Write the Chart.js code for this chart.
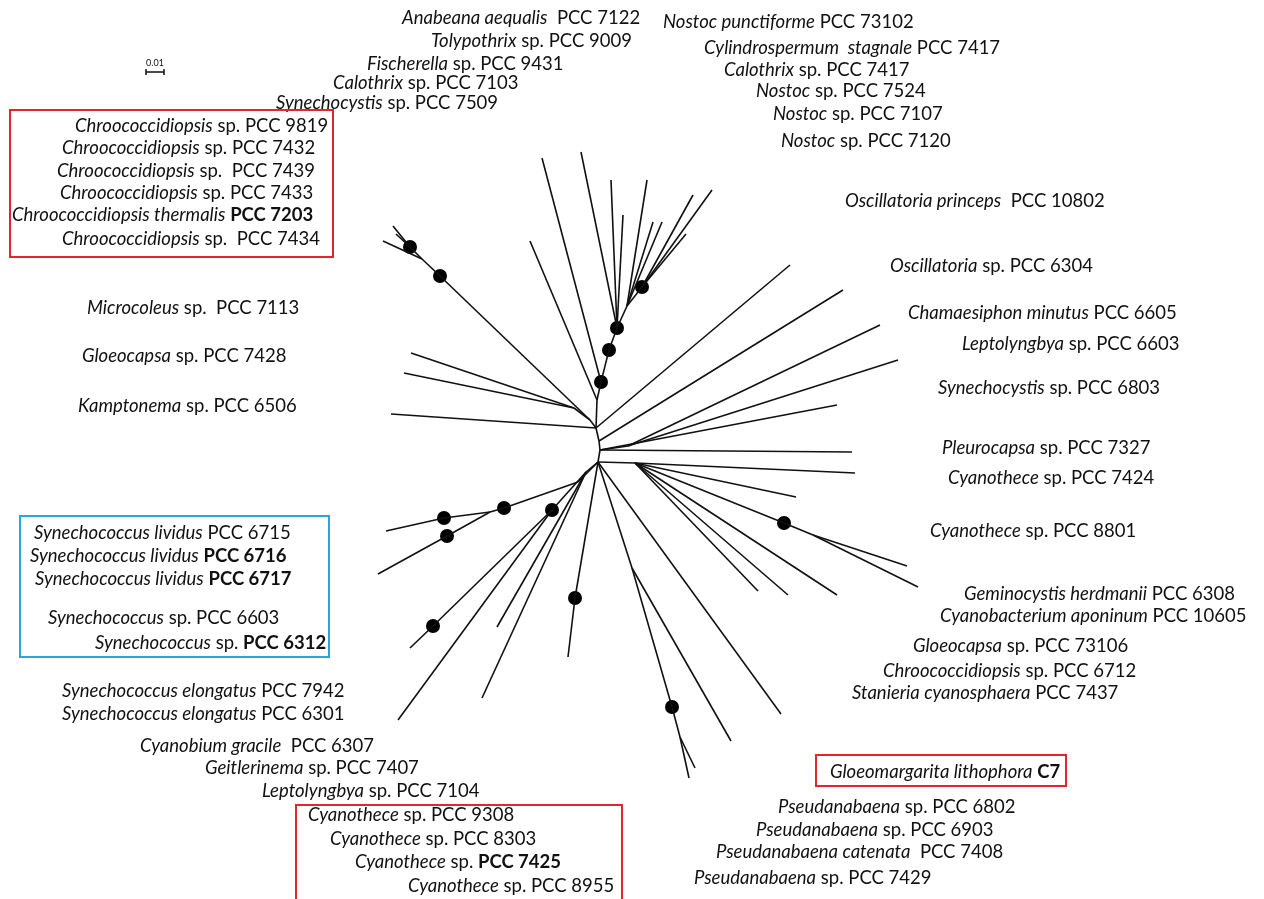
<!DOCTYPE html>
<html>
<head>
<meta charset="utf-8">
<script src="https://cdn.jsdelivr.net/npm/chart.js@4.4.1/dist/chart.umd.min.js"></script>
<style>
  html, body { margin: 0; padding: 0; background: #fff; }
  #wrap { width: 1264px; height: 899px; }
</style>
</head>
<body>
<div id="wrap"><canvas id="tree" width="1264" height="899"></canvas></div>
<script>
// tree nodes: [name, x, y, parent]
const treeNodes = [
    ['h', 598, 462, null],
    ['p6', 600, 450, 'h'],
    ['p6a', 599, 441, 'p6'],
    ['p5', 596, 428, 'p6a'],
    ['p4', 597, 400, 'p5'],
    ['p3', 601, 382, 'p4'],
    ['p2', 609, 350, 'p3'],
    ['p1', 617, 328, 'p2'],
    ['q1', 627, 306, 'p1'],
    ['p0', 642, 287, 'q1'],
    ['t1', 542, 158, 'p3'],
    ['t2', 530, 241, 'p4'],
    ['t3', 581, 152, 'p1'],
    ['t4', 611, 180, 'p1'],
    ['t5', 623, 215, 'p1'],
    ['t6', 647, 180, 'q1'],
    ['t7', 653, 222, 'q1'],
    ['t8', 662, 222, 'q1'],
    ['t9', 693, 195, 'p0'],
    ['t10', 712, 190, 'p0'],
    ['t11', 686, 234, 'p0'],
    ['hl', 590, 420, 'p5'],
    ['g', 574, 408, 'hl'],
    ['t12', 411, 353, 'g'],
    ['t13', 404, 373, 'g'],
    ['t14', 391, 414, 'p5'],
    ['c0', 440, 276, 'hl'],
    ['cn', 422, 259, 'c0'],
    ['t15', 383, 241, 'cn'],
    ['c2', 410, 247, 'cn'],
    ['t16', 393, 226, 'c2'],
    ['t17', 396, 234, 'c2'],
    ['r1', 790, 265, 'p5'],
    ['r2', 843, 290, 'p6a'],
    ['w', 628, 446, 'p6'],
    ['r3', 880, 325, 'w'],
    ['r4', 898, 360, 'w'],
    ['r5', 837, 405, 'p6'],
    ['r6', 852, 452, 'p6'],
    ['f', 635, 463, 'h'],
    ['r7', 855, 473, 'f'],
    ['r8', 796, 497, 'f'],
    ['cy', 784, 523, 'f'],
    ['cys', 813, 535, 'cy'],
    ['r9', 907, 566, 'cys'],
    ['r10', 918, 587, 'cys'],
    ['r11', 837, 595, 'f'],
    ['r12', 788, 595, 'f'],
    ['r13', 758, 591, 'f'],
    ['b1', 781, 714, 'h'],
    ['k', 632, 568, 'h'],
    ['b2', 731, 741, 'k'],
    ['kd', 672, 707, 'k'],
    ['kn', 680, 737, 'kd'],
    ['b3', 689, 778, 'kn'],
    ['b4', 695, 768, 'kn'],
    ['dd', 575, 598, 'h'],
    ['b5', 568, 657, 'dd'],
    ['m', 586, 472, 'h'],
    ['d', 552, 510, 'm'],
    ['d2', 433, 626, 'd'],
    ['b6', 410, 648, 'd2'],
    ['b7', 398, 720, 'd'],
    ['b8', 497, 627, 'm'],
    ['b9', 482, 698, 'm'],
    ['l1', 578, 482, 'h'],
    ['l2', 504, 508, 'l1'],
    ['n2', 490, 512, 'l2'],
    ['l3', 444, 518, 'n2'],
    ['b10', 386, 531, 'l3'],
    ['l4', 447, 536, 'n2'],
    ['b11', 378, 574, 'l4'],
];

// nodes carrying a support dot
const supportedNodes = ['p3', 'p2', 'p1', 'p0', 'c0', 'c2', 'cy', 'kd', 'dd', 'd', 'd2', 'l2', 'l3', 'l4'];

// strain names, *italic* and **bold** parts
const leafNames = [
    '*Anabeana aequalis*  PCC 7122',
    '*Tolypothrix* sp. PCC 9009',
    '*Fischerella* sp. PCC 9431',
    '*Calothrix* sp. PCC 7103',
    '*Synechocystis* sp. PCC 7509',
    '*Chroococcidiopsis* sp. PCC 9819',
    '*Chroococcidiopsis* sp. PCC 7432',
    '*Chroococcidiopsis* sp.  PCC 7439',
    '*Chroococcidiopsis* sp. PCC 7433',
    '*Chroococcidiopsis thermalis* **PCC 7203**',
    '*Chroococcidiopsis* sp.  PCC 7434',
    '*Microcoleus* sp.  PCC 7113',
    '*Gloeocapsa* sp. PCC 7428',
    '*Kamptonema* sp. PCC 6506',
    '*Synechococcus lividus* PCC 6715',
    '*Synechococcus lividus* **PCC 6716**',
    '*Synechococcus lividus* **PCC 6717**',
    '*Synechococcus* sp. PCC 6603',
    '*Synechococcus* sp. **PCC 6312**',
    '*Synechococcus elongatus* PCC 7942',
    '*Synechococcus elongatus* PCC 6301',
    '*Cyanobium gracile*  PCC 6307',
    '*Geitlerinema* sp. PCC 7407',
    '*Leptolyngbya* sp. PCC 7104',
    '*Cyanothece* sp. PCC 9308',
    '*Cyanothece* sp. PCC 8303',
    '*Cyanothece* sp. **PCC 7425**',
    '*Cyanothece* sp. PCC 8955',
    '*Pseudanabaena* sp. PCC 7429',
    '*Pseudanabaena catenata*  PCC 7408',
    '*Pseudanabaena* sp. PCC 6903',
    '*Pseudanabaena* sp. PCC 6802',
    '*Gloeomargarita lithophora* **C7**',
    '*Stanieria cyanosphaera* PCC 7437',
    '*Chroococcidiopsis* sp. PCC 6712',
    '*Gloeocapsa* sp. PCC 73106',
    '*Cyanobacterium aponinum* PCC 10605',
    '*Geminocystis herdmanii* PCC 6308',
    '*Cyanothece* sp. PCC 8801',
    '*Cyanothece* sp. PCC 7424',
    '*Pleurocapsa* sp. PCC 7327',
    '*Synechocystis* sp. PCC 6803',
    '*Leptolyngbya* sp. PCC 6603',
    '*Chamaesiphon minutus* PCC 6605',
    '*Oscillatoria* sp. PCC 6304',
    '*Oscillatoria princeps*  PCC 10802',
    '*Nostoc* sp. PCC 7120',
    '*Nostoc* sp. PCC 7107',
    '*Nostoc* sp. PCC 7524',
    '*Calothrix* sp. PCC 7417',
    '*Cylindrospermum  stagnale* PCC 7417',
    '*Nostoc punctiforme* PCC 73102',
];

// where each name starts: left edge, middle line
const labelAt = [
    [402, 18], [431, 41], [367, 64], [333, 83], [276, 103],
    [75, 126], [62, 148], [57, 171], [60, 193], [12, 215], [62, 239],
    [87, 308], [82, 356], [78, 406],
    [34, 533], [30, 556], [35, 579], [48, 618], [95, 643],
    [62, 691], [62, 714], [140, 746], [205, 768], [262, 791],
    [308, 815], [330, 839], [355, 862], [408, 886],
    [694, 878], [716, 852], [756, 830], [778, 807], [830, 772],
    [852, 693], [883, 671], [913, 646], [940, 616], [964, 594],
    [930, 531], [948, 478], [942, 448], [938, 388], [962, 344],
    [908, 313], [890, 266], [845, 201],
    [781, 141], [773, 114], [756, 91], [724, 70], [704, 48], [663, 22],
];

// highlight frames [x1, y1, x2, y2, colour]
const frames = [
    [10, 110, 333, 257, '#e3262b'],
    [20, 516, 329, 657, '#2aa4dc'],
    [296, 805, 622, 905, '#e3262b'],
    [816, 755, 1066, 786, '#e3262b'],
];

const scaleBar = { label: '0.01', from: 146, to: 164, at: 72 };

const FONT = 'Lato, "Open Sans", sans-serif';
const SIZE = 18.5;

function buildDatasets() {
    let byName = {};
    treeNodes.forEach(n => byName[n[0]] = n);
    let sets = treeNodes.filter(n => n[3]).map(n => {
        let p = byName[n[3]];
        return {
            data: [{ x: p[1], y: p[2] }, { x: n[1], y: n[2] }],
            showLine: true,
            borderColor: '#111',
            borderWidth: 1.6,
            pointRadius: 0,
        };
    });
    sets.push({
        data: supportedNodes.map(s => ({ x: byName[s][1], y: byName[s][2] })),
        showLine: false,
        pointRadius: 7,
        pointBackgroundColor: '#000',
        pointBorderWidth: 0,
    });
    return sets;
}

function splitMarkup(text) {
    return text.split(/(\*\*[^*]+\*\*|\*[^*]+\*)/).filter(s => s.length).map(s => {
        if (s.startsWith('**')) return { t: s.slice(2, -2), style: 'bold ' };
        if (s.startsWith('*')) return { t: s.slice(1, -1), style: 'italic ' };
        return { t: s, style: '' };
    });
}

const labelPlugin = {
    id: 'treeLabels',
    afterDraw(chart) {
        let ctx = chart.ctx;
        let xs = chart.scales.x, ys = chart.scales.y;
        ctx.save();
        ctx.fillStyle = '#111';
        ctx.textBaseline = 'middle';
        leafNames.forEach((name, i) => {
            let cx = xs.getPixelForValue(labelAt[i][0]);
            let cy = ys.getPixelForValue(labelAt[i][1]);
            splitMarkup(name).forEach(p => {
                ctx.font = p.style + SIZE + 'px ' + FONT;
                ctx.fillText(p.t, cx, cy);
                cx += ctx.measureText(p.t).width;
            });
        });

        frames.forEach(f => {
            ctx.strokeStyle = f[4];
            ctx.lineWidth = 2;
            let a = xs.getPixelForValue(f[0]), b = ys.getPixelForValue(f[1]);
            ctx.strokeRect(a, b, xs.getPixelForValue(f[2]) - a, ys.getPixelForValue(f[3]) - b);
        });

        // scale bar
        let s1 = xs.getPixelForValue(scaleBar.from), s2 = xs.getPixelForValue(scaleBar.to);
        let sy = ys.getPixelForValue(scaleBar.at);
        ctx.strokeStyle = '#111';
        ctx.lineWidth = 1.5;
        ctx.beginPath();
        ctx.moveTo(s1, sy); ctx.lineTo(s2, sy);
        ctx.moveTo(s1, sy - 3); ctx.lineTo(s1, sy + 3);
        ctx.moveTo(s2, sy - 3); ctx.lineTo(s2, sy + 3);
        ctx.stroke();
        ctx.font = '9px ' + FONT;
        ctx.textAlign = 'center';
        ctx.fillText(scaleBar.label, (s1 + s2) / 2, sy - 9);
        ctx.restore();
    }
};

new Chart(document.getElementById('tree'), {
    type: 'scatter',
    data: { datasets: buildDatasets() },
    options: {
        responsive: false,
        animation: false,
        layout: { padding: 0, autoPadding: false },
        plugins: { legend: { display: false }, tooltip: { enabled: false } },
        scales: {
            x: { type: 'linear', min: 0, max: 1264, display: false },
            y: { type: 'linear', min: 0, max: 899, reverse: true, display: false },
        },
    },
    plugins: [labelPlugin],
});
</script>
</body>
</html>
